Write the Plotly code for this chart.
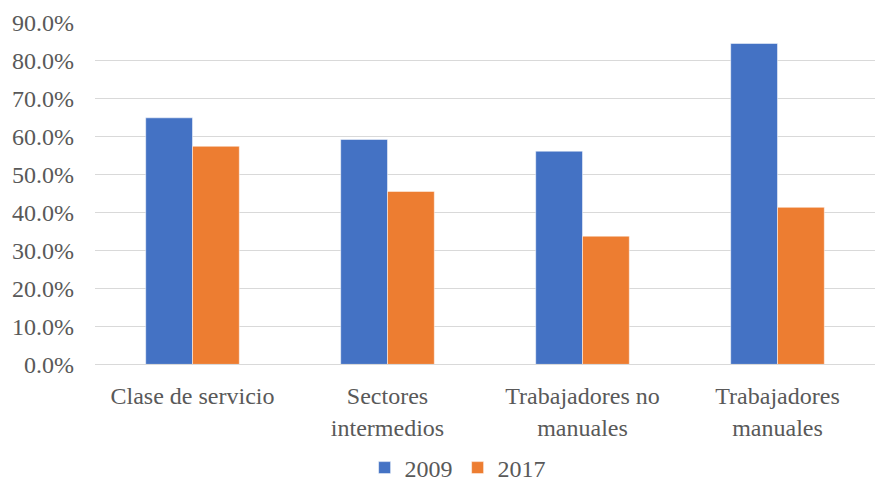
import plotly.graph_objects as go

categories = ["Clase de servicio", "Sectores<br>intermedios", "Trabajadores no<br>manuales", "Trabajadores<br>manuales"]
values_2009 = [0.650, 0.593, 0.562, 0.846]
values_2017 = [0.575, 0.456, 0.338, 0.414]
tick_vals = [0, 0.1, 0.2, 0.3, 0.4, 0.5, 0.6, 0.7, 0.8, 0.9]

fig = go.Figure()
fig.add_trace(go.Bar(name="2009", x=categories, y=values_2009, marker=dict(color="#4472C4", line=dict(color="white", width=0.5))))
fig.add_trace(go.Bar(name="2017", x=categories, y=values_2017, marker=dict(color="#ED7D31", line=dict(color="white", width=0.5))))

font = dict(family="Liberation Serif", size=24, color="#595959")
fig.update_layout(
    width=880, height=481,
    margin=dict(l=95, r=5, t=23, b=115),
    paper_bgcolor="white", plot_bgcolor="white",
    barmode="group", bargap=0.52, bargroupgap=0,
    font=font,
    legend=dict(orientation="h", x=0.52, xanchor="center", xref="container",
                y=0.027, yanchor="middle", yref="container",
                font=font, itemwidth=30, traceorder="normal"),
    hovermode=False,
)
fig.update_yaxes(range=[0, 0.9], tickvals=tick_vals, tickformat=".1%", showgrid=True,
                 gridcolor="#d9d9d9", gridwidth=1.3, zeroline=False, showline=False,
                 ticks="", ticklabelstandoff=20)
fig.update_xaxes(showline=True, linecolor="#d9d9d9", linewidth=1.3, ticks="", showgrid=False,
                 ticklabelstandoff=10)
fig.write_html("out.html")
